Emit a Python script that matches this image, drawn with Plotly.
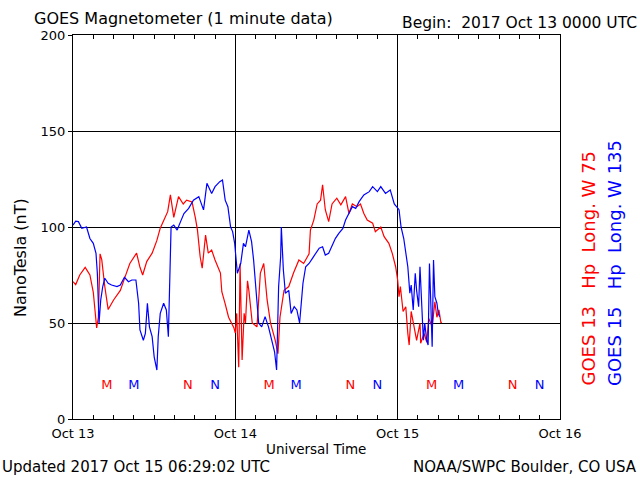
import plotly.graph_objects as go

# hours since 2017 Oct 13 00:00 UTC
g13_hours = [0.0, 0.4, 1.0, 1.8, 2.5, 3.0, 3.5, 3.75, 4.0, 4.25, 4.7, 5.2, 6.0, 7.0, 7.7, 8.4, 9.4, 9.9,
             10.3, 10.9, 11.7, 12.4, 12.9, 13.6, 14.0, 14.4, 14.9, 15.6, 16.3, 16.8, 17.6, 18.1, 18.4,
             18.8, 19.1, 19.6, 20.0, 20.5, 21.0, 21.8, 22.0, 22.5, 23.0, 23.8, 24.0, 24.2, 24.5, 24.7,
             25.0, 25.3, 25.5, 25.8, 26.0, 26.5, 27.2, 27.7, 28.2, 28.7, 29.2, 29.9, 30.3, 30.6, 31.2,
             31.9, 32.6, 33.4, 34.1, 34.9, 35.1, 35.6, 36.1, 36.6, 36.9, 37.3, 37.8, 38.3, 39.0, 39.6,
             40.3, 40.8, 41.3, 42.0, 42.5, 43.0, 43.5, 44.3, 44.7, 45.5, 46.0, 46.7, 47.2, 47.7, 48.0,
             48.2, 48.4, 48.8, 49.2, 49.5, 49.7, 50.0, 50.4, 50.8, 51.3, 51.4, 51.9, 52.3, 52.6, 53.1,
             53.5, 53.8, 54.1, 54.4, 54.5]
g13_values = [71.5, 70, 75, 79, 75, 66, 47.4, 53, 86, 83, 69, 57, 62, 67, 74, 81, 86.4, 79,
              75, 82, 86.4, 93, 99.4, 104.6, 108, 116.7, 105, 115.8, 112, 114, 113, 104.6, 98.4,
              84.5, 78.6, 95.8, 86.4, 88, 82.8, 76, 66.3, 60, 53, 47.4, 44.8, 55, 27, 81,
              30.7, 55, 50, 72, 67, 50, 48, 76, 81, 62, 50, 41, 34, 53, 67,
              69, 76, 82.8, 81, 86, 98.4, 103.6, 112, 114, 122, 109, 102.8, 112, 115, 111.5,
              115.8, 107, 112, 110.6, 112, 107, 103.6, 102, 97.6, 100, 95, 91.5, 86.3, 79.3, 72.4,
              63.7, 69, 56, 58.5, 44.6, 38.5, 56, 49, 41, 50, 39.4, 44.6, 40, 52.4, 48,
              61, 53, 56.8, 50, 50.7]

g15_hours = [0.0, 0.4, 0.8, 1.3, 2.0, 2.5, 3.0, 3.4, 3.6, 3.85, 4.1, 4.4, 4.7, 5.2, 5.7, 6.5, 7.0, 7.6,
             8.2, 8.7, 9.3, 9.7, 9.9, 10.4, 10.7, 11.0, 11.3, 11.7, 12.0, 12.4, 12.6, 12.9, 13.4, 13.8,
             14.1, 14.3, 14.5, 14.9, 15.4, 15.9, 16.4, 17.1, 17.8, 18.6, 19.3, 19.8, 20.5, 21.0, 21.7,
             22.1, 22.5, 22.9, 23.3, 23.6, 23.9, 24.3, 24.8, 25.2, 25.5, 26.0, 26.4, 26.7, 27.1, 27.45,
             27.9, 28.4, 28.9, 29.4, 29.8, 30.1, 30.4, 30.7, 30.8, 31.1, 31.4, 31.9, 32.25, 32.7, 33.1,
             33.5, 33.75, 34.0, 34.4, 34.9, 35.4, 35.9, 36.4, 36.9, 37.3, 37.8, 38.3, 38.8, 39.3, 39.9,
             40.3, 40.8, 41.3, 41.8, 42.3, 43.0, 43.8, 44.3, 45.0, 45.5, 46.2, 46.9, 47.5, 48.2, 48.5,
             48.9, 49.3, 49.5, 49.8, 50.0, 50.3, 50.6, 50.8, 51.1, 51.3, 51.6, 51.8, 52.0, 52.3, 52.5,
             52.7, 52.9, 53.1, 53.3, 53.5, 53.8, 54.0, 54.2]
g15_values = [101, 103, 102.8, 99.3, 100, 94, 91.5, 86.3, 75.9, 50, 62, 69, 73.3, 70.7, 69.8, 69, 69.8, 73.8,
              71.5, 72.4, 72.4, 60.3, 46.4, 41, 44.6, 60.3, 48, 42.9, 32.4, 25.5, 42.9, 55, 60.3, 56.8,
              42.9, 70.7, 100, 101, 98.4, 102.8, 107, 109.7, 114, 115.8, 108.9, 122.8, 117.5, 121, 123.6,
              124.5, 114, 110.6, 100, 97.6, 91.5, 75.9, 81, 91.5, 89.7, 98.4, 92.4, 82.8, 67.2, 50,
              48, 53.3, 48, 41, 35, 25.5, 69, 84.5, 100, 77.6, 65.5, 67, 55, 58.5, 56.8,
              50, 60.3, 70.7, 79.3, 81, 83.7, 86.3, 89, 89.7, 85.4, 86.3, 90.6, 94.1, 96.7, 99.3,
              103.6, 107, 110.6, 109.7, 113.2, 116.7, 118.4, 121, 118.4, 121, 117.5, 119.3, 112, 109, 100,
              94, 83.7, 79.3, 65.5, 69.8, 56.8, 75.9, 67, 58.5, 79.3, 53.3, 41, 50, 41, 38.5,
              81, 60.3, 37.6, 82.8, 63.7, 60.3, 55, 53.3]

x_tick_vals = [0, 24, 48, 72]
x_tick_labels = ["Oct 13", "Oct 14", "Oct 15", "Oct 16"]

# local midnight (M) / noon (N) markers
g13_mark_hours = [5, 17, 29, 41, 53, 65]
g13_mark_text = ["M", "N", "M", "N", "M", "N"]
g15_mark_hours = [9, 21, 33, 45, 57, 69]
g15_mark_text = ["M", "N", "M", "N", "M", "N"]
mark_level = 17.5

RED = "#ff0000"
BLUE = "#0000ff"
FONT = "DejaVu Sans"

fig = go.Figure()
fig.add_trace(go.Scatter(x=g13_hours, y=g13_values, mode="lines",
                         line=dict(color=RED, width=1.2), showlegend=False))
fig.add_trace(go.Scatter(x=g15_hours, y=g15_values, mode="lines",
                         line=dict(color=BLUE, width=1.2), showlegend=False))
fig.add_trace(go.Scatter(x=g13_mark_hours, y=[mark_level] * len(g13_mark_hours), mode="text",
                         text=g13_mark_text, textfont=dict(color=RED, size=13, family=FONT),
                         showlegend=False))
fig.add_trace(go.Scatter(x=g15_mark_hours, y=[mark_level] * len(g15_mark_hours), mode="text",
                         text=g15_mark_text, textfont=dict(color=BLUE, size=13, family=FONT),
                         showlegend=False))

L, R, T, B = 73, 560, 35, 419
W, H = R - L, B - T


def px(x):
    return (x - L) / W


def py(y):
    return (B - y) / H


ann = []
ann.append(dict(text="GOES Magnetometer (1 minute data)", x=px(32), y=py(18), xanchor="left",
                yanchor="middle", font=dict(size=16, color="black", family=FONT)))
ann.append(dict(text="Begin:  2017 Oct 13 0000 UTC", x=px(639), y=py(23), xanchor="right",
                yanchor="middle", font=dict(size=15.5, color="black", family=FONT)))
ann.append(dict(text="Universal Time", x=px(316), y=py(449), xanchor="center",
                yanchor="middle", font=dict(size=13.5, color="black", family=FONT)))
ann.append(dict(text="Updated 2017 Oct 15 06:29:02 UTC", x=px(0), y=py(467), xanchor="left",
                yanchor="middle", font=dict(size=15, color="black", family=FONT)))
ann.append(dict(text="NOAA/SWPC Boulder, CO USA", x=px(639), y=py(467), xanchor="right",
                yanchor="middle", font=dict(size=15, color="black", family=FONT)))
ann.append(dict(text="NanoTesla (nT)", x=px(20), y=py(258), xanchor="center",
                yanchor="middle", textangle=-90, font=dict(size=16, color="black", family=FONT)))
ann.append(dict(text="GOES 13   Hp  Long. W 75", x=px(588), y=py(388), xanchor="center",
                yanchor="bottom", textangle=-90, font=dict(size=18, color=RED, family=FONT)))
ann.append(dict(text="GOES 15   Hp  Long. W 135", x=px(614), y=py(388), xanchor="center",
                yanchor="bottom", textangle=-90, font=dict(size=18, color=BLUE, family=FONT)))
for a in ann:
    a.update(xref="paper", yref="paper", showarrow=False)

fig.update_layout(
    width=640, height=480,
    margin=dict(l=L, r=640 - R, t=T, b=480 - B, pad=0),
    paper_bgcolor="white", plot_bgcolor="white",
    font=dict(family=FONT, color="black", size=13),
    annotations=ann,
    xaxis=dict(range=[0, 72], tickvals=x_tick_vals, ticktext=x_tick_labels,
               showgrid=True, gridcolor="black", gridwidth=1,
               showline=True, linecolor="black", linewidth=1, mirror="allticks",
               ticks="inside", ticklen=4, tickcolor="black", ticklabelstandoff=2,
               minor=dict(dtick=3, ticks="inside", ticklen=4, tickcolor="black", showgrid=False),
               tickfont=dict(size=13, family=FONT), zeroline=False, fixedrange=True),
    yaxis=dict(range=[0, 200], dtick=50, showgrid=True, gridcolor="black", gridwidth=1,
               showline=True, linecolor="black", linewidth=1, mirror=True,
               ticks="outside", ticklen=4, tickcolor="black",
               tickfont=dict(size=13, family=FONT), zeroline=False, fixedrange=True),
)

fig.write_html("out.html")
